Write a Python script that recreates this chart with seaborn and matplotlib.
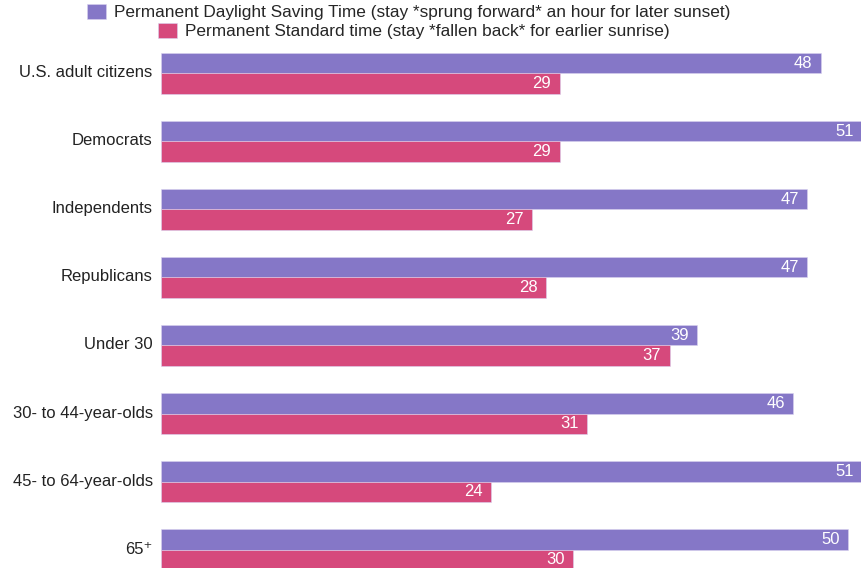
import matplotlib
matplotlib.use("Agg")
import matplotlib.pyplot as plt
import matplotlib.patches as mpatches
import matplotlib.transforms as mtransforms
import pandas as pd
import seaborn as sns

groups = ["U.S. adult citizens", "Democrats", "Independents", "Republicans",
          "Under 30", "30- to 44-year-olds", "45- to 64-year-olds", "65\u207a"]
dst_values = [48, 51, 47, 47, 39, 46, 51, 50]
std_values = [29, 29, 27, 28, 37, 31, 24, 30]
dst_label = "Permanent Daylight Saving Time (stay *sprung forward* an hour for later sunset)"
std_label = "Permanent Standard time (stay *fallen back* for earlier sunrise)"
colors = {dst_label: "#8577c7", std_label: "#d6497c"}

df = pd.DataFrame({
    "group": groups * 2,
    "value": dst_values + std_values,
    "series": [dst_label] * len(groups) + [std_label] * len(groups),
})

sns.set_style("white")
plt.rcParams["font.family"] = ["Liberation Sans", "DejaVu Sans"]

fig = plt.figure(figsize=(8.62, 5.68), dpi=100)
ax = fig.add_axes([161 / 862, 0, 701 / 862, 523 / 568])

sns.barplot(data=df, x="value", y="group", hue="series", orient="h",
            palette=colors, saturation=1, width=0.6, ax=ax, legend=False,
            edgecolor="#d9d3f0", linewidth=0.4)

for container in ax.containers:
    for patch in container:
        ax.annotate(f"{patch.get_width():.0f}",
                    (patch.get_width(), patch.get_y() + patch.get_height() / 2),
                    xytext=(-6, 0), textcoords="offset points",
                    ha="right", va="center", color="white", fontsize=12)

ax.set_xlim(0, 51)
ax.set_ylim(7.272, -0.419)
ax.set_xlabel("")
ax.set_ylabel("")
ax.set_xticks([])
ax.tick_params(axis="y", length=0, labelsize=12, pad=6, labelcolor="#222222")
# labels sit a touch above the group centre in the original
shift = mtransforms.ScaledTranslation(0, 2 / 100, fig.dpi_scale_trans)
for lbl in ax.get_yticklabels():
    lbl.set_transform(lbl.get_transform() + shift)
sns.despine(ax=ax, left=True, bottom=True, top=True, right=True)

for label, xc, yc in [(dst_label, 409, 12), (std_label, 414, 31)]:
    handle = mpatches.Patch(facecolor=colors[label], edgecolor="#d9d3f0", linewidth=0.4)
    fig.legend([handle], [label], loc="center", bbox_to_anchor=(xc / 862, 1 - yc / 568),
               frameon=False, fontsize=12.4, handlelength=1.1, handleheight=1.0,
               handletextpad=0.45, borderpad=0, borderaxespad=0)

fig.savefig("out.png", dpi=100)
